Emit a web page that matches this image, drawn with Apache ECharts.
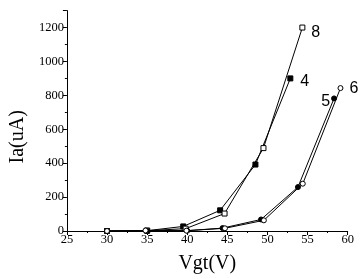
<!DOCTYPE html>
<html>
<head>
<meta charset="utf-8">
<script src="https://cdn.jsdelivr.net/npm/echarts@6/dist/echarts.min.js"></script>
<style>
  html, body { margin: 0; padding: 0; background: #fff; }
  #chart { width: 362px; height: 279px; }
</style>
</head>
<body>
<div id="chart"></div>
<script>
// curve 4 (filled squares)
const x4 = [30, 35, 39.5, 44.1, 48.5, 52.85];
const y4 = [0, 2, 27, 122, 392, 900];
// curve 8 (open squares)
const x8 = [30, 35, 39.8, 44.65, 49.5, 54.35];
const y8 = [0, 2, 14, 103, 489, 1200];
// curve 5 (filled circles)
const x5 = [30, 35, 40, 44.4, 49.2, 53.8, 58.3];
const y5 = [0, 0, 2, 17, 68, 259, 782];
// curve 6 (open circles)
const x6 = [30, 34.8, 39.9, 44.7, 49.55, 54.4, 59.1];
const y6 = [0, 3, 2, 16, 63, 279, 843];

const serif = 'Liberation Serif';

function pairs(xs, ys, labelCfg) {
  return xs.map((x, i) => {
    const item = { value: [x, ys[i]] };
    if (i === xs.length - 1) item.label = labelCfg;
    return item;
  });
}

function endLabel(name, position, offset) {
  return {
    show: true,
    formatter: name,
    position: position,
    distance: 4,
    offset: offset,
    color: '#000',
    fontFamily: 'Liberation Sans',
    fontSize: 16
  };
}

function makeSeries(name, xs, ys, symbol, filled, lbl) {
  return {
    name: name,
    type: 'line',
    data: pairs(xs, ys, lbl),
    symbol: symbol,
    symbolSize: 5,
    showAllSymbol: true,
    lineStyle: { color: '#000', width: 1 },
    itemStyle: { color: filled ? '#000' : '#fff', borderColor: '#000', borderWidth: 1 },
    label: { show: false },
    emphasis: { disabled: true }
  };
}

const chart = echarts.init(document.getElementById('chart'), null, { renderer: 'canvas' });
chart.setOption({
  animation: false,
  backgroundColor: '#fff',
  grid: { left: 48.5, right: 14.3, top: 10.6, bottom: 46 },
  xAxis: {
    type: 'value',
    min: 25, max: 60, interval: 5,
    name: 'Vgt(V)',
    nameLocation: 'middle',
    nameGap: 23,
    nameTextStyle: { fontFamily: serif, fontSize: 20, color: '#000' },
    axisLine: { lineStyle: { color: '#000', width: 1 } },
    axisTick: { show: true, inside: false, length: 4, lineStyle: { color: '#000' } },
    minorTick: { show: true, splitNumber: 2, length: 2, lineStyle: { color: '#000' } },
    axisLabel: { fontFamily: serif, fontSize: 12.5, color: '#000', margin: 2 },
    splitLine: { show: false }
  },
  yAxis: {
    type: 'value',
    min: 0, max: 1300, interval: 200,
    name: 'Ia(uA)',
    nameLocation: 'middle',
    nameGap: 36,
    nameTextStyle: { fontFamily: serif, fontSize: 20, color: '#000', padding: [0, 32, 0, 0] },
    axisLine: { show: true, lineStyle: { color: '#000', width: 1 } },
    axisTick: { show: true, inside: false, length: 4, lineStyle: { color: '#000' } },
    minorTick: { show: true, splitNumber: 2, length: 2, lineStyle: { color: '#000' } },
    axisLabel: {
      fontFamily: serif, fontSize: 12.5, color: '#000', margin: 3, showMaxLabel: false,
      formatter: (v) => String(v)
    },
    splitLine: { show: false }
  },
  series: [
    makeSeries('4', x4, y4, 'rect', true, endLabel('4', 'right', [3, 3])),
    makeSeries('8', x8, y8, 'rect', false, endLabel('8', 'right', [2, 5])),
    makeSeries('5', x5, y5, 'circle', true, endLabel('5', 'left', [3, 3])),
    makeSeries('6', x6, y6, 'circle', false, endLabel('6', 'right', [2, 1]))
  ]
});
</script>
</body>
</html>
